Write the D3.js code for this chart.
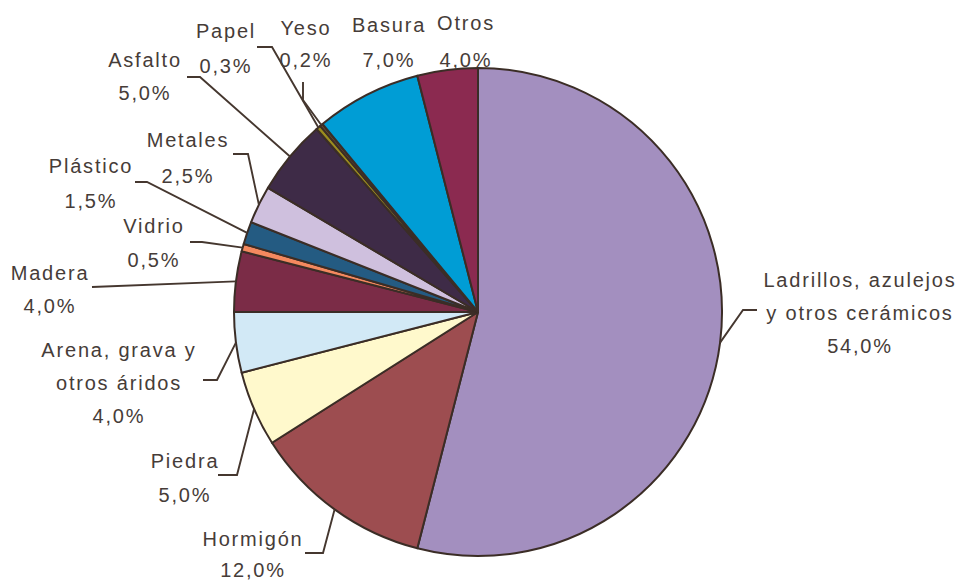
<!DOCTYPE html>
<html>
<head>
<meta charset="utf-8">
<script src="https://cdn.jsdelivr.net/npm/d3@7"></script>
<style>
  body { margin: 0; background: #fff; }
  svg text { font-family: "Liberation Sans", Arial, sans-serif; font-size: 20px; fill: #463c38; letter-spacing: 1.8px; }
</style>
</head>
<body>
<svg id="chart" width="962" height="580"></svg>
<script>
// data, clockwise from 12 o'clock
const categories = [
  "Ladrillos, azulejos\ny otros cerámicos", "Hormigón", "Piedra", "Arena, grava y\notros áridos",
  "Madera", "Vidrio", "Plástico", "Metales", "Asfalto", "Papel", "Yeso", "Basura", "Otros"
];
const values = [54.0, 12.0, 5.0, 4.0, 4.0, 0.5, 1.5, 2.5, 5.0, 0.3, 0.2, 7.0, 4.0];
const colors = [
  "#a38fbf", "#9d4d50", "#fff9cc", "#d2e9f6", "#7b2c47", "#f4895f", "#245b82",
  "#cfc0de", "#3e2b47", "#9b8c1f", "#6a5030", "#009dd5", "#8b2a50"
];

// label layout: text centre, first baseline, line gap, leader start & elbow (null = no leader)
const labelPos = [
  {tx: 860, ty: 287, lh: 33, s: [757, 310], e: [743, 310]},
  {tx: 253, ty: 546, lh: 31, s: [305, 553], e: [323, 553]},
  {tx: 185, ty: 468, lh: 34, s: [218, 475], e: [237, 475]},
  {tx: 119, ty: 357, lh: 33, s: [203, 380], e: [217, 380]},
  {tx: 50,  ty: 280, lh: 33, s: [92, 287],  e: [92, 287]},
  {tx: 154, ty: 233, lh: 34, s: [190, 242], e: [202, 242]},
  {tx: 91,  ty: 173, lh: 35, s: [135, 182], e: [147, 182]},
  {tx: 188, ty: 147, lh: 36, s: [233, 154], e: [248, 154]},
  {tx: 145, ty: 67,  lh: 33, s: [187, 77],  e: [200, 77]},
  {tx: 226, ty: 38,  lh: 35, s: [257, 47],  e: [272, 47]},
  {tx: 306, ty: 35,  lh: 32, s: [303, 82],  e: [303, 100]},
  {tx: 389, ty: 32,  lh: 35, s: null, e: null},
  {tx: 466, ty: 30,  lh: 37, s: null, e: null}
];

const cx = 478, cy = 312, radius = 244;
const fmt = v => d3.format(".1f")(v).replace(".", ",") + "%";

const svg = d3.select("#chart");
const g = svg.append("g").attr("transform", "translate(" + cx + "," + cy + ")");

const pie = d3.pie().sort(null).value(d => d);
const arcs = pie(values);
const arc = d3.arc().innerRadius(0).outerRadius(radius);
const rim = d3.arc().innerRadius(radius).outerRadius(radius);

g.selectAll("path.slice")
  .data(arcs)
  .enter()
  .append("path")
    .attr("class", "slice")
    .attr("d", arc)
    .style("fill", (d, i) => colors[i])
    .style("stroke", "#3b2d26")
    .style("stroke-width", 2)
    .style("stroke-linejoin", "round");

// leader lines
const line = d3.line();
arcs.forEach((d, i) => {
  const p = labelPos[i];
  if (!p.s) return;
  const end = rim.centroid(d);
  svg.append("path")
    .attr("d", line([p.s, p.e, [end[0] + cx, end[1] + cy]]))
    .style("fill", "none")
    .style("stroke", "#45372f")
    .style("stroke-width", 1.9);
});

// labels
categories.forEach((name, i) => {
  const p = labelPos[i];
  const rows = name.split("\n").concat([fmt(values[i])]);
  const t = svg.append("text").attr("text-anchor", "middle");
  rows.forEach((r, j) => {
    t.append("tspan").attr("x", p.tx).attr("y", p.ty + j * p.lh).text(r);
  });
});
</script>
</body>
</html>
